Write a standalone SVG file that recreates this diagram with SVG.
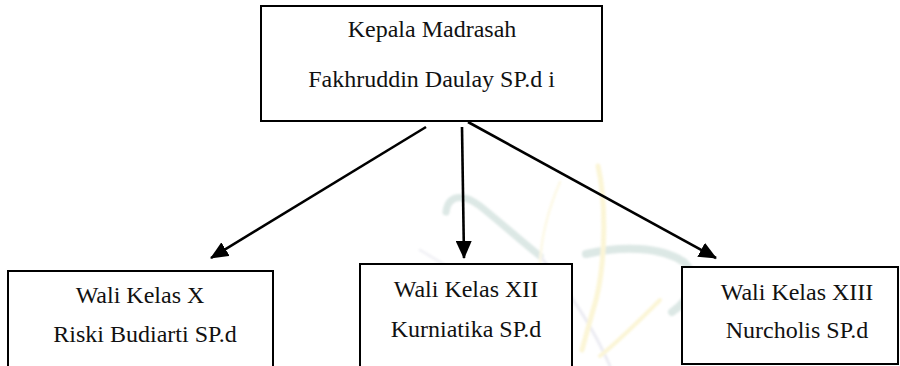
<svg xmlns="http://www.w3.org/2000/svg" width="900" height="366" viewBox="0 0 900 366">
  <style>
    .box { fill: #ffffff; stroke: #000000; stroke-width: 2; }
    .lbl { font-family: "Liberation Serif", "Times New Roman", serif; font-size: 24px; fill: #111111; text-anchor: middle; }
    .edge { stroke: #000000; stroke-width: 2.6; fill: none; marker-end: url(#head); }
    .wm { fill: none; stroke-linecap: round; }
  </style>
  <defs>
    <marker id="head" markerUnits="userSpaceOnUse" markerWidth="18" markerHeight="16" refX="17" refY="8" orient="auto">
      <path d="M0,0 L18,8 L0,16 Z" fill="#000000"/>
    </marker>
    <filter id="soft" x="-10%" y="-10%" width="120%" height="120%">
      <feGaussianBlur stdDeviation="1.2"/>
    </filter>
  </defs>

  <rect width="900" height="366" fill="#ffffff"/>

  <!-- faint background emblem -->
  <g id="emblem" opacity="0.4" filter="url(#soft)">
    <path class="wm" d="M446,212 C448,196 462,192 480,206 C500,222 520,240 540,256" stroke="#a9c6bf" stroke-width="7"/>
    <path class="wm" d="M540,256 C560,280 590,320 610,366" stroke="#cfcfdf" stroke-width="3"/>
    <path class="wm" d="M586,254 C620,246 660,246 684,262 C700,278 690,300 672,312" stroke="#a9c6bf" stroke-width="8"/>
    <path class="wm" d="M598,166 C606,200 606,260 596,300 C590,320 586,336 582,350" stroke="#f6e79a" stroke-width="5"/>
    <path class="wm" d="M560,182 C548,210 540,240 540,270" stroke="#f9efc0" stroke-width="2.5"/>
    <path class="wm" d="M420,250 C440,262 470,280 500,300" stroke="#dedee8" stroke-width="3"/>
    <path class="wm" d="M660,300 C640,320 620,340 600,356" stroke="#f6e79a" stroke-width="4"/>
  </g>

  <g id="connectors">
    <line class="edge" x1="426" y1="127" x2="211" y2="258"/>
    <line class="edge" x1="462" y1="127" x2="464" y2="258"/>
    <line class="edge" x1="468" y1="122" x2="716" y2="258"/>
  </g>

  <g id="kepala">
    <rect class="box" x="261" y="6" width="341" height="115"/>
    <text class="lbl" x="432" y="37">Kepala Madrasah</text>
    <text class="lbl" x="431.5" y="87">Fakhruddin Daulay SP.d i</text>
  </g>

  <g id="wali-x">
    <rect class="box" x="8" y="271" width="265" height="110"/>
    <text class="lbl" x="140" y="303">Wali Kelas X</text>
    <text class="lbl" x="145" y="342">Riski Budiarti SP.d</text>
  </g>

  <g id="wali-xii">
    <rect class="box" x="360" y="264" width="212" height="120"/>
    <text class="lbl" x="466" y="297">Wali Kelas XII</text>
    <text class="lbl" x="466" y="337">Kurniatika SP.d</text>
  </g>

  <g id="wali-xiii">
    <rect class="box" x="682" y="267" width="216" height="97"/>
    <text class="lbl" x="797" y="300">Wali Kelas XIII</text>
    <text class="lbl" x="797" y="338">Nurcholis SP.d</text>
  </g>
</svg>
